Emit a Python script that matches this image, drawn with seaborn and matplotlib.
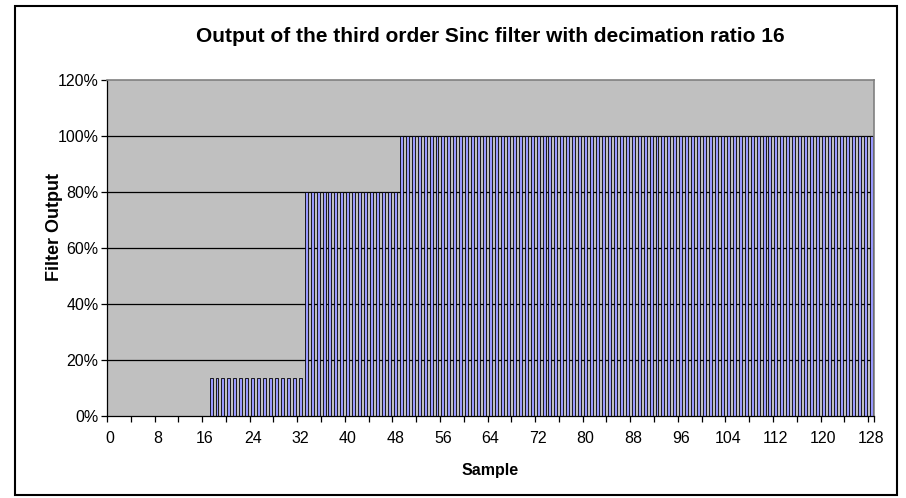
import numpy as np
import matplotlib
matplotlib.use('Agg')
import matplotlib.pyplot as plt
import seaborn as sns
import pandas as pd
from matplotlib.ticker import FixedLocator, PercentFormatter

# Sample index (decimated output samples 0..128)
samples = list(range(129))

# Filter output in percent (16 values per row)
output_pct = [
    0, 0, 0, 0, 0, 0, 0, 0, 0, 0, 0, 0, 0, 0, 0, 0,
    0, 13.7, 13.7, 13.7, 13.7, 13.7, 13.7, 13.7, 13.7, 13.7, 13.7, 13.7, 13.7, 13.7, 13.7, 13.7,
    13.7, 80, 80, 80, 80, 80, 80, 80, 80, 80, 80, 80, 80, 80, 80, 80,
    80, 100, 100, 100, 100, 100, 100, 100, 100, 100, 100, 100, 100, 100, 100, 100,
    100, 100, 100, 100, 100, 100, 100, 100, 100, 100, 100, 100, 100, 100, 100, 100,
    100, 100, 100, 100, 100, 100, 100, 100, 100, 100, 100, 100, 100, 100, 100, 100,
    100, 100, 100, 100, 100, 100, 100, 100, 100, 100, 100, 100, 100, 100, 100, 100,
    100, 100, 100, 100, 100, 100, 100, 100, 100, 100, 100, 100, 100, 100, 100, 100,
    100,
]

x_labels = [str(s) for s in range(0, 129, 8)]
y_ticks = [0, 20, 40, 60, 80, 100, 120]

df = pd.DataFrame({'Sample': samples, 'Output': output_pct})

plt.rcParams['font.family'] = ['Liberation Sans', 'DejaVu Sans']

fig = plt.figure(figsize=(9.06, 4.98), dpi=100)
ax = fig.add_axes([0.1181, 0.1647, 0.8466, 0.6747])
ax.set_facecolor('#C0C0C0')

# gridlines behind the bars
for yv in y_ticks[1:-1]:
    ax.axhline(yv, color='black', lw=0.9, zorder=0.5)

sns.barplot(data=df, x='Sample', y='Output', color='#9999FF', saturation=1,
            edgecolor='black', linewidth=0.6, width=0.5, ax=ax, zorder=2)

ax.set_xlim(-0.5, len(samples) - 0.5)
ax.set_ylim(0, 120)

# labels every 8 samples, tick marks on category boundaries every 4
ax.xaxis.set_major_locator(FixedLocator(list(range(0, 129, 8))))
ax.set_xticklabels(x_labels)
ax.xaxis.set_minor_locator(FixedLocator(list(np.arange(-0.5, 129, 4)) + [128.5]))
ax.tick_params(axis='x', which='major', length=0, labelsize=11.5, pad=11)
ax.tick_params(axis='x', which='minor', length=4, width=0.9, direction='out')

ax.set_yticks(y_ticks)
ax.yaxis.set_major_formatter(PercentFormatter(decimals=0))
ax.tick_params(axis='y', length=4, width=0.9, direction='out', labelsize=11.5, pad=2)

ax.set_xlabel('')
ax.set_ylabel('')

for side in ['top', 'right']:
    ax.spines[side].set_color('#808080')
    ax.spines[side].set_linewidth(1.2)
for side in ['left', 'bottom']:
    ax.spines[side].set_color('black')
    ax.spines[side].set_linewidth(0.9)

fig.text(0.541, 0.926, 'Output of the third order Sinc filter with decimation ratio 16',
         ha='center', va='center', fontsize=15, fontweight='bold')
fig.text(0.541, 0.056, 'Sample', ha='center', va='center', fontsize=11.5, fontweight='bold')
fig.text(0.0607, 0.544, 'Filter Output', ha='center', va='center', rotation=90,
         fontsize=13, fontweight='bold')

# outer chart frame
fig.add_artist(plt.Rectangle((15 / 906, 3 / 498), 882 / 906, 489 / 498,
                             transform=fig.transFigure, fill=False,
                             edgecolor='black', lw=1.5))

fig.savefig('out.png', dpi=100)
